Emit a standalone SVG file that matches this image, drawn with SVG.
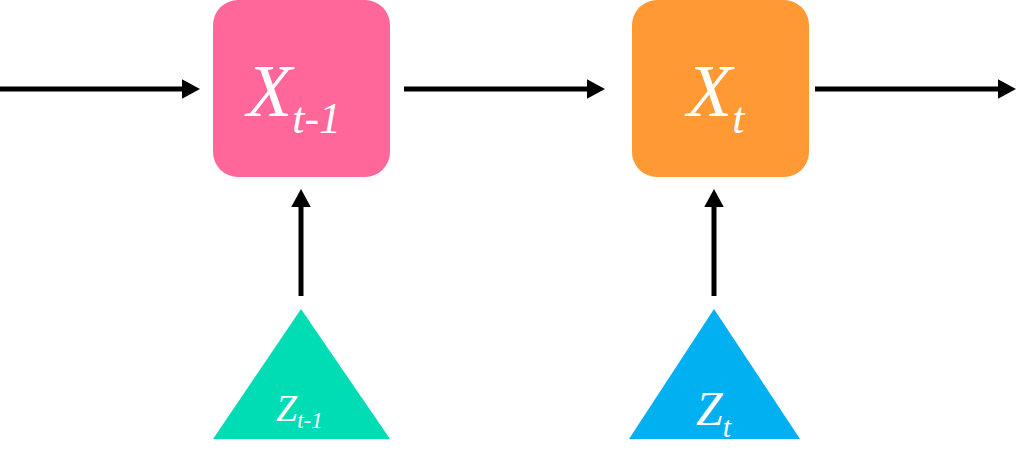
<svg xmlns="http://www.w3.org/2000/svg" width="1034" height="468" viewBox="0 0 1034 468">
<defs>
<marker id="ah" markerWidth="3.6" markerHeight="3.9" refX="0.1" refY="1.95" orient="auto" markerUnits="strokeWidth"><path d="M0,0 L3.6,1.95 L0,3.9 z" fill="#000"/></marker>
</defs>
<style>
.lbl{font-family:"Liberation Serif","Times New Roman",serif;font-style:italic;fill:#fff}
.edge{stroke:#000;stroke-width:5;fill:none;marker-end:url(#ah)}
</style>
<rect width="1034" height="468" fill="#fff"/>
<g id="connectors">
<line class="edge" x1="0" y1="89" x2="182.5" y2="89"/>
<line class="edge" x1="404" y1="89" x2="587.5" y2="89"/>
<line class="edge" x1="815" y1="89" x2="998.5" y2="89"/>
<line class="edge" x1="301" y1="296" x2="301" y2="206.5"/>
<line class="edge" x1="714" y1="296" x2="714" y2="206.5"/>
</g>
<g id="x_t_minus_1">
<rect x="213" y="0" width="177" height="177" rx="25" fill="#FF6699"/>
<text class="lbl" x="247" y="116" font-size="74">X<tspan font-size="44" dy="17">t-1</tspan></text>
</g>
<g id="x_t">
<rect x="632" y="0" width="177" height="177" rx="25" fill="#FF9933"/>
<text class="lbl" x="687" y="116" font-size="74">X<tspan font-size="44" dy="17">t</tspan></text>
</g>
<g id="z_t_minus_1">
<polygon points="301,309 390,439 213,439" fill="#00DDB4"/>
<text class="lbl" x="276" y="421" font-size="38">Z<tspan font-size="23" dy="7">t-1</tspan></text>
</g>
<g id="z_t">
<polygon points="714,309 800,439 629,439" fill="#00B0F0"/>
<text class="lbl" x="696" y="425" font-size="48">Z<tspan font-size="30" dy="12">t</tspan></text>
</g>
</svg>
